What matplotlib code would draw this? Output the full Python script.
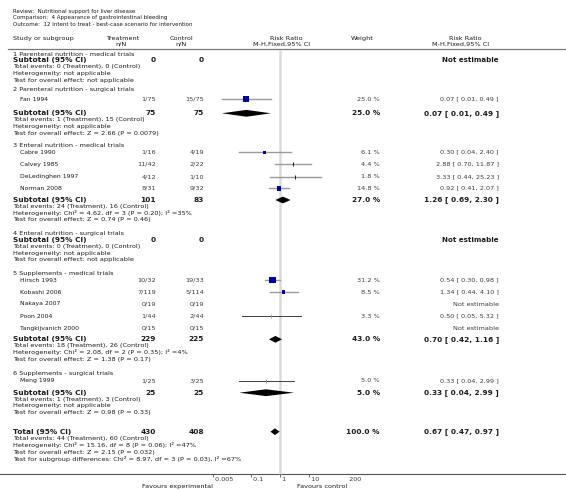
import numpy as np
import matplotlib
matplotlib.use('Agg')
import matplotlib.pyplot as plt

# ---- data ----
review = 'Review:  Nutritional support for liver disease'
comparison = 'Comparison:  4 Appearance of gastrointestinal bleeding'
outcome = 'Outcome:  12 Intent to treat - best-case scenario for intervention'

groups = ['1 Parenteral nutrition - medical trials',
          '2 Parenteral nutrition - surgical trials',
          '3 Enteral nutrition - medical trials',
          '4 Enteral nutrition - surgical trials',
          '5 Supplements - medical trials',
          '6 Supplements - surgical trials']

study_names = ['Fan 1994', 'Cabre 1990', 'Calvey 1985', 'DeLedinghen 1997', 'Norman 2008',
               'Hirsch 1993', 'Kobashi 2006', 'Nakaya 2007', 'Poon 2004', 'Tangkijvanich 2000',
               'Meng 1999']
study_group = [1, 2, 2, 2, 2, 4, 4, 4, 4, 4, 5]
treat_events = [1, 1, 11, 4, 8, 10, 7, 0, 1, 0, 1]
treat_total = [75, 16, 42, 12, 31, 32, 119, 19, 44, 15, 25]
ctrl_events = [15, 4, 2, 1, 9, 19, 5, 0, 2, 0, 3]
ctrl_total = [75, 19, 22, 10, 32, 33, 114, 19, 44, 15, 25]
study_weight = [25.0, 6.1, 4.4, 1.8, 14.8, 31.2, 8.5, None, 3.3, None, 5.0]
study_rr = [0.07, 0.30, 2.88, 3.33, 0.92, 0.54, 1.34, None, 0.50, None, 0.33]
study_lo = [0.01, 0.04, 0.70, 0.44, 0.41, 0.30, 0.44, None, 0.05, None, 0.04]
study_hi = [0.49, 2.40, 11.87, 25.23, 2.07, 0.98, 4.10, None, 5.32, None, 2.99]

sub_treat_n = [0, 75, 101, 0, 229, 25]
sub_ctrl_n = [0, 75, 83, 0, 225, 25]
sub_treat_ev = [0, 1, 24, 0, 18, 1]
sub_ctrl_ev = [0, 15, 16, 0, 26, 3]
sub_weight = [None, 25.0, 27.0, None, 43.0, 5.0]
sub_rr = [None, 0.07, 1.26, None, 0.70, 0.33]
sub_lo = [None, 0.01, 0.69, None, 0.42, 0.04]
sub_hi = [None, 0.49, 2.30, None, 1.16, 2.99]
sub_het = ['not applicable', 'not applicable',
           'Chi\u00b2 = 4.62, df = 3 (P = 0.20); I\u00b2 =35%', 'not applicable',
           'Chi\u00b2 = 2.08, df = 2 (P = 0.35); I\u00b2 =4%', 'not applicable']
sub_effect = ['not applicable', 'Z = 2.66 (P = 0.0079)', 'Z = 0.74 (P = 0.46)',
              'not applicable', 'Z = 1.38 (P = 0.17)', 'Z = 0.98 (P = 0.33)']

total_treat_n, total_ctrl_n = 430, 408
total_treat_ev, total_ctrl_ev = 44, 60
total_weight = 100.0
total_rr, total_lo, total_hi = 0.67, 0.47, 0.97
total_het = 'Chi\u00b2 = 15.16, df = 8 (P = 0.06); I\u00b2 =47%'
total_effect = 'Z = 2.15 (P = 0.032)'
subgroup_diff = 'Chi\u00b2 = 8.97, df = 3 (P = 0.03), I\u00b2 =67%'

axis_ticks = [0.005, 0.1, 1, 10, 200]
axis_tick_labels = ['0.005', '0.1', '1', '10', '200']

W, H = 566, 491
group_y = [54.3, 89.5, 145.7, 233.3, 274.0, 374.0]
study_y = [99.3, 152.3, 164.3, 176.7, 188.3, 280.0, 292.0, 304.0, 316.0, 328.3, 380.7]
sub_y = [60.3, 113.3, 200.0, 240.0, 339.3, 392.7]
detail_dy = [6.3, 13.0, 20.0]
total_y = 431.7
total_dy = [6.9, 13.6, 20.9, 27.6]
axis_y = 474
header_line_y = 49

X_LEFT = 13
X_STUDY = 20
X_TREAT = 156
X_CTRL = 204
X_WEIGHT = 380
X_CI = 499
PLOT_X0, PLOT_X1 = 213, 347

FS_HEAD = 4.0   # review / comparison / outcome
FS = 4.65       # normal text
FS_STUDY = 4.45
FS_B = 5.35     # bold subtotal text
TXT = '#1a1a1a'
NUM = '#3a3a3a'
BLUE = '#0000a6'
GREY_CI = '#9a9a9a'
dark_ci = {'Poon 2004', 'Meng 1999'}

plt.rcParams['font.family'] = ['DejaVu Sans']

fig = plt.figure(figsize=(W / 100, H / 100), dpi=100)
tax = fig.add_axes([0, 0, 1, 1])
tax.set_xlim(0, W)
tax.set_ylim(H, 0)
tax.axis('off')

fax = fig.add_axes([PLOT_X0 / W, 0, (PLOT_X1 - PLOT_X0) / W, 1], sharey=tax)
fax.set_xscale('log')
fax.set_xlim(axis_ticks[0], axis_ticks[-1])
fax.axis('off')
fax.patch.set_alpha(0)


def t(x, y, s, ha='left', bold=False, size=None, color=TXT):
    tax.text(x, y, s, ha=ha, va='center', fontsize=size or (FS_B if bold else FS),
             fontweight='bold' if bold else 'normal', color=color)


def ci_text(rr, lo, hi):
    return f'{rr:.2f} [ {lo:.2f}, {hi:.2f} ]'


def diamond(y, rr, lo, hi, h=3.4):
    fax.fill([lo, rr, hi, rr], [y, y - h, y, y + h], color='black', lw=0)


# header
t(X_LEFT, 11, review, size=FS_HEAD)
t(X_LEFT, 17.5, comparison, size=FS_HEAD)
t(X_LEFT, 24, outcome, size=FS_HEAD)
t(X_LEFT, 38, 'Study or subgroup')
t(123, 38, 'Treatment', ha='center')
t(121, 44, 'n/N', ha='center')
t(181, 38, 'Control', ha='center')
t(181, 44, 'n/N', ha='center')
t(286, 38, 'Risk Ratio', ha='center')
t(282, 44, 'M-H,Fixed,95% CI', ha='center')
t(362, 38, 'Weight', ha='center')
t(465, 38, 'Risk Ratio', ha='center')
t(461, 44, 'M-H,Fixed,95% CI', ha='center')
tax.plot([8, W], [header_line_y, header_line_y], color='#777777', lw=0.9)

# null line
fax.vlines(1, header_line_y + 1, axis_y, color='#dadada', lw=1.8, zorder=0)

# subgroups
for g, name in enumerate(groups):
    t(X_LEFT, group_y[g], name)
    for i in range(len(study_names)):
        if study_group[i] != g:
            continue
        y = study_y[i]
        t(X_STUDY, y, study_names[i], size=FS_STUDY)
        t(X_TREAT, y, f'{treat_events[i]}/{treat_total[i]}', ha='right', color=NUM)
        t(X_CTRL, y, f'{ctrl_events[i]}/{ctrl_total[i]}', ha='right', color=NUM)
        if study_rr[i] is None:
            t(X_CI, y, 'Not estimable', ha='right', color=NUM)
            continue
        t(X_WEIGHT, y, f'{study_weight[i]:.1f} %', ha='right', color=NUM)
        t(X_CI, y, ci_text(study_rr[i], study_lo[i], study_hi[i]), ha='right', color=NUM)
        dark = study_names[i] in dark_ci
        fax.plot([study_lo[i], study_hi[i]], [y, y], color='#222222' if dark else GREY_CI,
                 lw=0.6 if dark else 1.0, zorder=2)
        w = study_weight[i]
        if w >= 5.5:
            side = 1.18 * np.sqrt(w) * 0.72
            fax.scatter([study_rr[i]], [y], marker='s', s=side ** 2, color=BLUE,
                        edgecolors='none', zorder=3)
        else:
            fax.scatter([study_rr[i]], [y], marker='|', s=5,
                        color=GREY_CI if dark else 'black', linewidths=0.6, zorder=3)

    ys = sub_y[g]
    t(X_LEFT, ys, 'Subtotal (95% CI)', bold=True)
    t(X_TREAT, ys, str(sub_treat_n[g]), ha='right', bold=True)
    t(X_CTRL, ys, str(sub_ctrl_n[g]), ha='right', bold=True)
    if sub_rr[g] is None:
        t(X_CI, ys, 'Not estimable', ha='right', bold=True, size=5.1)
    else:
        t(X_WEIGHT, ys, f'{sub_weight[g]:.1f} %', ha='right', bold=True)
        t(X_CI, ys, ci_text(sub_rr[g], sub_lo[g], sub_hi[g]), ha='right', bold=True)
        diamond(ys, sub_rr[g], sub_lo[g], sub_hi[g])
    t(X_LEFT, ys + detail_dy[0],
      f'Total events: {sub_treat_ev[g]} (Treatment), {sub_ctrl_ev[g]} (Control)')
    t(X_LEFT, ys + detail_dy[1], f'Heterogeneity: {sub_het[g]}')
    t(X_LEFT, ys + detail_dy[2], f'Test for overall effect: {sub_effect[g]}')

# overall total
t(X_LEFT, total_y, 'Total (95% CI)', bold=True)
t(X_TREAT, total_y, str(total_treat_n), ha='right', bold=True)
t(X_CTRL, total_y, str(total_ctrl_n), ha='right', bold=True)
t(X_WEIGHT, total_y, f'{total_weight:.1f} %', ha='right', bold=True)
t(X_CI, total_y, ci_text(total_rr, total_lo, total_hi), ha='right', bold=True)
diamond(total_y, total_rr, total_lo, total_hi)
t(X_LEFT, total_y + total_dy[0],
  f'Total events: {total_treat_ev} (Treatment), {total_ctrl_ev} (Control)')
t(X_LEFT, total_y + total_dy[1], f'Heterogeneity: {total_het}')
t(X_LEFT, total_y + total_dy[2], f'Test for overall effect: {total_effect}')
t(X_LEFT, total_y + total_dy[3], f'Test for subgroup differences: {subgroup_diff}')

# axis
tax.plot([0, W], [axis_y, axis_y], color='#555555', lw=0.8)
fax.vlines(axis_ticks, axis_y, axis_y + 3, color='#555555', lw=0.6)
for v, lab in zip(axis_ticks, axis_tick_labels):
    fax.text(v, axis_y + 5.5, ' ' + lab, ha='left', va='center', fontsize=FS, color=NUM)
fax.text(axis_ticks[0], axis_y + 12.5, 'Favours experimental', ha='right', va='center',
         fontsize=FS, color=TXT)
fax.text(axis_ticks[-1], axis_y + 12.5, 'Favours control', ha='right', va='center',
         fontsize=FS, color=TXT)

fig.savefig('out.png', dpi=100)
